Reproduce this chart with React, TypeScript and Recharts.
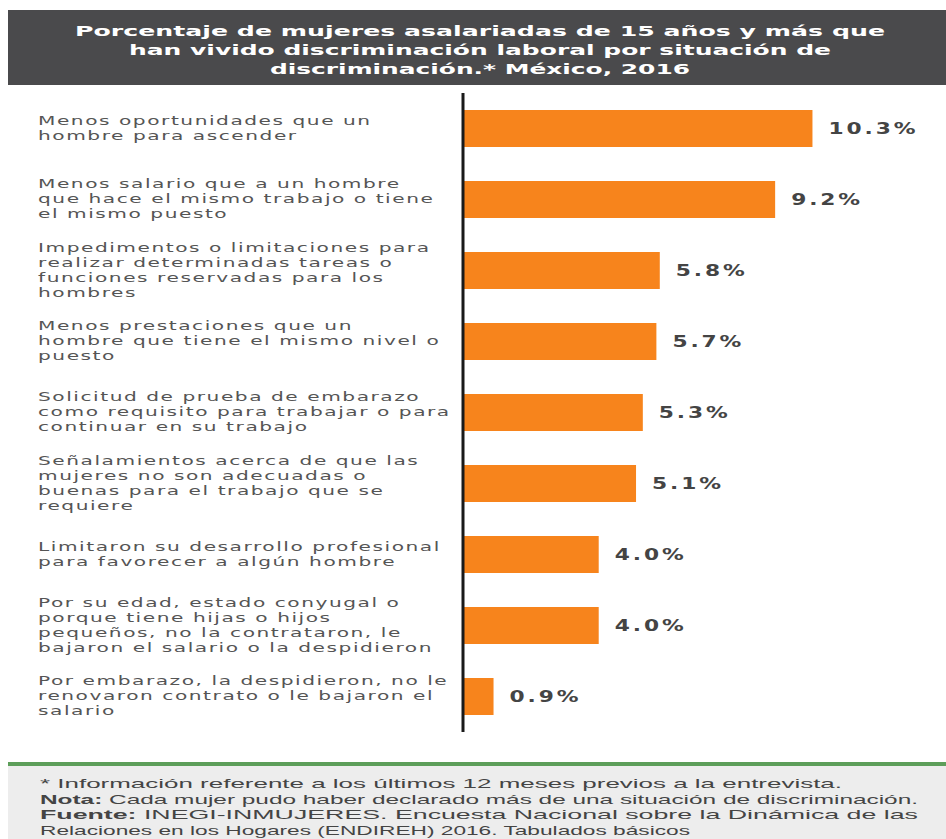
import { BarChart, Bar, XAxis, YAxis, LabelList } from "recharts"

const categories = [
  "Menos oportunidades que un\nhombre para ascender",
  "Menos salario que a un hombre\nque hace el mismo trabajo o tiene\nel mismo puesto",
  "Impedimentos o limitaciones para\nrealizar determinadas tareas o\nfunciones reservadas para los\nhombres",
  "Menos prestaciones que un\nhombre que tiene el mismo nivel o\npuesto",
  "Solicitud de prueba de embarazo\ncomo requisito para trabajar o para\ncontinuar en su trabajo",
  "Señalamientos acerca de que las\nmujeres no son adecuadas o\nbuenas para el trabajo que se\nrequiere",
  "Limitaron su desarrollo profesional\npara favorecer a algún hombre",
  "Por su edad, estado conyugal o\nporque tiene hijas o hijos\npequeños, no la contrataron, le\nbajaron el salario o la despidieron",
  "Por embarazo, la despidieron, no le\nrenovaron contrato o le bajaron el\nsalario",
]
const values = [10.3, 9.2, 5.8, 5.7, 5.3, 5.1, 4.0, 4.0, 0.9]

const titleLines = [
  "Porcentaje de mujeres asalariadas de 15 años y más que",
  "han vivido discriminación laboral por situación de",
  "discriminación.* México, 2016",
]

const data = categories.map((c, i) => ({ name: c, value: values[i] }))

const ORANGE = "#f7841c"

function CategoryTick(props: any) {
  const { y, payload } = props
  const lines: string[] = String(payload.value).split("\n")
  const lh = 15
  const start = -((lines.length - 1) * lh) / 2 - 1
  return (
    <g transform={`translate(38, ${y}) scale(1.55, 1)`}>
      <text
        x={0}
        y={start}
        fill="#555"
        fontSize={13}
        letterSpacing={1}
        fontFamily="DejaVu Sans, sans-serif"
        dominantBaseline="central"
      >
        {lines.map((l, i) => (
          <tspan key={i} x={0} dy={i === 0 ? 0 : lh}>
            {l}
          </tspan>
        ))}
      </text>
    </g>
  )
}

function ValueLabel(props: any) {
  const { x, y, width, height, value } = props
  return (
    <g transform={`translate(${x + width + 16}, ${y + height / 2}) scale(1.45, 1)`}>
      <text
        x={0}
        y={0}
        fill="#444"
        fontSize={15}
        fontWeight="bold"
        letterSpacing={2}
        fontFamily="DejaVu Sans, sans-serif"
        dominantBaseline="central"
      >
        {Number(value).toFixed(1)}%
      </text>
    </g>
  )
}

export default function App() {
  return (
    <div style={{ position: "absolute", left: 0, top: 0, width: 946, height: 839, background: "#fff", overflow: "hidden" }}>
      <svg width={946} height={839} style={{ position: "absolute", left: 0, top: 0 }}>
        <rect x={8} y={10} width={938} height={75} fill="#4a4a4c" />
        {titleLines.map((t, i) => (
          <text
            key={i}
            x={480}
            y={36 + i * 19}
            textAnchor="middle"
            fill="#fff"
            fontSize={14}
            fontWeight="bold"
            fontFamily="DejaVu Sans, sans-serif"
            textLength={[810, 702, 420][i]}
            lengthAdjust="spacingAndGlyphs"
          >
            {t}
          </text>
        ))}
        <rect x={8} y={762} width={938} height={4} fill="#5d9e5a" />
        <rect x={8} y={766} width={938} height={73} fill="#ededed" />
        <g fill="#444" fontSize={13} fontFamily="Liberation Sans, sans-serif">
          <text x={40} y={788} textLength={802} lengthAdjust="spacingAndGlyphs">
            * Información referente a los últimos 12 meses previos a la entrevista.
          </text>
          <text x={40} y={803.5} textLength={878} lengthAdjust="spacingAndGlyphs">
            <tspan fontWeight="bold">Nota:</tspan> Cada mujer pudo haber declarado más de una situación de discriminación.
          </text>
          <text x={40} y={819} textLength={878} lengthAdjust="spacingAndGlyphs">
            <tspan fontWeight="bold">Fuente:</tspan> INEGI-INMUJERES. Encuesta Nacional sobre la Dinámica de las
          </text>
          <text x={40} y={834.5} textLength={650} lengthAdjust="spacingAndGlyphs">
            Relaciones en los Hogares (ENDIREH) 2016. Tabulados básicos
          </text>
        </g>
      </svg>
      <div style={{ position: "absolute", left: 0, top: 0 }}>
        <BarChart
          width={946}
          height={740}
          data={data}
          layout="vertical"
          margin={{ top: 93, right: 8, bottom: 8, left: 0 }}
          barCategoryGap={17}
        >
          <XAxis type="number" domain={[0, 14]} hide />
          <YAxis
            type="category"
            dataKey="name"
            width={463}
            axisLine={{ stroke: "#1a1a1a", strokeWidth: 3 }}
            tickLine={false}
            tick={<CategoryTick />}
            interval={0}
          />
          <Bar dataKey="value" fill={ORANGE} isAnimationActive={false}>
            <LabelList dataKey="value" content={<ValueLabel />} />
          </Bar>
        </BarChart>
      </div>
    </div>
  )
}
